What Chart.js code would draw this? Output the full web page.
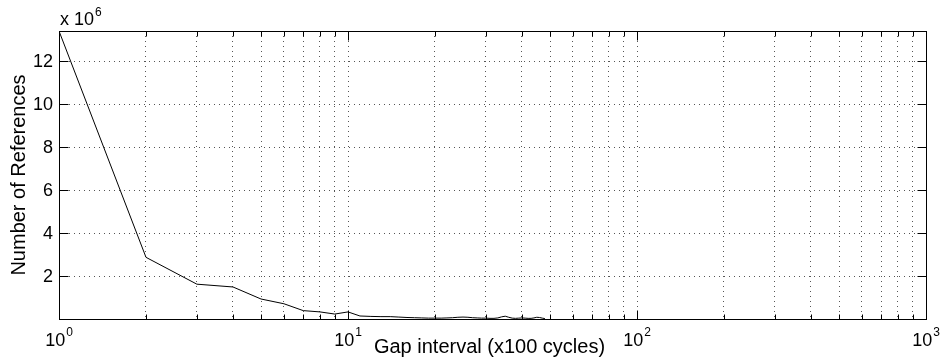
<!DOCTYPE html>
<html>
<head>
<meta charset="utf-8">
<title>Gap interval</title>
<script src="https://cdn.jsdelivr.net/npm/chart.js@4.4.1/dist/chart.umd.min.js"></script>
<style>
  html, body { margin: 0; padding: 0; background: #fff; }
  #wrap { width: 941px; height: 362px; position: relative; }
</style>
</head>
<body>
<div id="wrap"><canvas id="myChart" width="941" height="362"></canvas></div>
<script>
'use strict';

// gap interval in units of 100 cycles
var gapX = [1, 2, 3, 4, 5, 6, 7, 8, 9, 10,
  11, 12, 13, 14, 15, 16, 17, 18, 19, 20,
  21, 22, 23, 24, 25, 26, 27, 28, 29, 30,
  31, 32, 33, 34, 35, 36, 37, 38, 39, 40,
  41, 42, 43, 44, 45, 46, 47, 48];

// number of references, in millions (axis is labelled x 10^6)
var refs = [13.40, 2.87, 1.62, 1.49, 0.93, 0.71, 0.39, 0.33, 0.23, 0.33,
  0.14, 0.12, 0.11, 0.11, 0.09, 0.07, 0.06, 0.05, 0.04, 0.04,
  0.04, 0.05, 0.06, 0.08, 0.09, 0.08, 0.06, 0.05, 0.04, 0.04,
  0.03, 0.03, 0.05, 0.10, 0.13, 0.08, 0.04, 0.03, 0.04, 0.05,
  0.04, 0.03, 0.03, 0.05, 0.08, 0.07, 0.04, 0.02];

var xTicks = [1, 2, 3, 4, 5, 6, 7, 8, 9,
  10, 20, 30, 40, 50, 60, 70, 80, 90,
  100, 200, 300, 400, 500, 600, 700, 800, 900, 1000];
var xDecades = [1, 10, 100, 1000];
var xExp = ['0', '1', '2', '3'];
var yTicks = [2, 4, 6, 8, 10, 12];
var yMax = 13.4;

var xTitle = 'Gap interval (x100 cycles)';
var yTitle = 'Number of References';

var FONT = '"Liberation Sans", Arial, Helvetica, sans-serif';

function line(ctx, x1, y1, x2, y2) {
    ctx.beginPath();
    ctx.moveTo(x1, y1);
    ctx.lineTo(x2, y2);
    ctx.stroke();
}

// draws the box, inward ticks and the labels the way the original plot looks
var matlabAxes = {
    id: 'matlabAxes',
    afterDraw: function (chart) {
        var ctx = chart.ctx;
        var a = chart.chartArea;
        var xs = chart.scales.x;
        var ys = chart.scales.y;
        var L = Math.round(a.left) + 0.5;
        var R = Math.round(a.right) + 0.5;
        var T = Math.round(a.top) + 0.5;
        var B = Math.round(a.bottom) + 0.5;

        ctx.save();
        ctx.strokeStyle = '#000';
        ctx.lineWidth = 1;
        ctx.setLineDash([]);
        ctx.strokeRect(L, T, R - L, B - T);

        for (var i = 0; i < xTicks.length; i++) {
            var v = xTicks[i];
            var px = Math.round(xs.getPixelForValue(v)) + 0.5;
            var len = xDecades.indexOf(v) >= 0 ? 9 : 5;
            line(ctx, px, B, px, B - len);
            line(ctx, px, T, px, T + len);
        }
        for (var j = 0; j < yTicks.length; j++) {
            var py = Math.round(ys.getPixelForValue(yTicks[j])) + 0.5;
            line(ctx, L, py, L + 9, py);
            line(ctx, R, py, R - 9, py);
        }

        ctx.fillStyle = '#000';

        // y tick labels
        ctx.font = '18px ' + FONT;
        ctx.textAlign = 'right';
        ctx.textBaseline = 'middle';
        for (var k = 0; k < yTicks.length; k++) {
            ctx.fillText(String(yTicks[k]), a.left - 6, ys.getPixelForValue(yTicks[k]) + 1);
        }

        // x tick labels 10^n
        ctx.textAlign = 'left';
        ctx.textBaseline = 'alphabetic';
        for (var d = 0; d < xDecades.length; d++) {
            ctx.font = '18px ' + FONT;
            var w1 = ctx.measureText('10').width;
            ctx.font = '12px ' + FONT;
            var w2 = ctx.measureText(xExp[d]).width;
            var cx = xs.getPixelForValue(xDecades[d]);
            var sx = cx - (w1 + w2 + 1) / 2;
            ctx.font = '18px ' + FONT;
            ctx.fillText('10', sx, 346);
            ctx.font = '12px ' + FONT;
            ctx.fillText(xExp[d], sx + w1 + 1, 336);
        }

        // exponent label above the y axis
        ctx.font = '18px ' + FONT;
        ctx.fillText('x 10', a.left + 1, 25);
        var wx = ctx.measureText('x 10').width;
        ctx.font = '12px ' + FONT;
        ctx.fillText('6', a.left + 2 + wx, 16);

        // axis titles
        ctx.font = '20px ' + FONT;
        ctx.textAlign = 'center';
        ctx.fillText(xTitle, (a.left + a.right) / 2 - 3, 353);

        ctx.translate(25, (a.top + a.bottom) / 2);
        ctx.rotate(-Math.PI / 2);
        ctx.fillText(yTitle, 0, 0);
        ctx.restore();
    }
};

var points = [];
for (var i = 0; i < gapX.length; i++) {
    points.push({ x: gapX[i], y: refs[i] });
}

var gridOpts = {
    color: '#555',
    lineWidth: 1,
    drawTicks: false
};

var ctx = document.getElementById('myChart').getContext('2d');
var chart = new Chart(ctx, {
    type: 'line',
    data: {
        datasets: [{
            label: 'References',
            data: points,
            borderColor: '#000',
            borderWidth: 1,
            pointRadius: 0,
            tension: 0,
            fill: false
        }]
    },
    options: {
        responsive: false,
        animation: false,
        events: [],
        layout: {
            padding: { left: 59, right: 15, top: 31, bottom: 43 }
        },
        plugins: {
            legend: { display: false },
            tooltip: { enabled: false }
        },
        scales: {
            x: {
                type: 'logarithmic',
                min: 1,
                max: 1000,
                ticks: { display: false },
                grid: gridOpts,
                border: { display: false, dash: [1, 4] },
                afterBuildTicks: function (scale) {
                    scale.ticks = xTicks.map(function (v) { return { value: v }; });
                },
                afterFit: function (scale) { scale.height = 0; }
            },
            y: {
                type: 'linear',
                min: 0,
                max: yMax,
                ticks: { display: false },
                grid: gridOpts,
                border: { display: false, dash: [1, 4] },
                afterBuildTicks: function (scale) {
                    scale.ticks = yTicks.map(function (v) { return { value: v }; });
                },
                afterFit: function (scale) { scale.width = 0; }
            }
        }
    },
    plugins: [matlabAxes]
});
</script>
</body>
</html>
